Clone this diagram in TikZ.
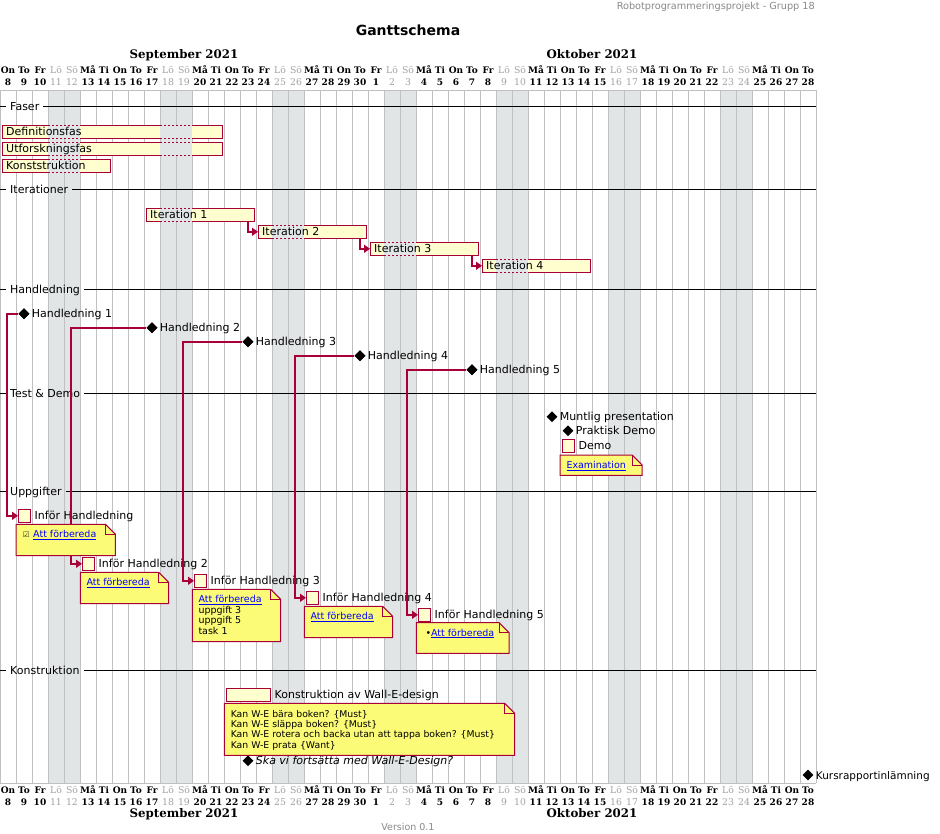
\documentclass[tikz,border=0pt]{standalone}
\usepackage{fontspec}
\setmainfont{DejaVu Sans}
\newfontfamily\calfont{DejaVu Serif}
\usetikzlibrary{arrows.meta,shapes.geometric}

\definecolor{barfill}{HTML}{FEFECE}
\definecolor{barline}{HTML}{A80036}
\definecolor{notefill}{HTML}{FBFB77}
\definecolor{wkfill}{HTML}{E1E5E5}
\definecolor{gridline}{HTML}{C0C0C0}
\definecolor{wktext}{HTML}{A0A0A0}
\definecolor{linkblue}{HTML}{0000FF}
\definecolor{hdrgray}{HTML}{888888}

\newcommand\dayname[1]{\ifcase#1 On\or To\or Fr\or Lö\or Sö\or Må\or Ti\fi}
\newcommand\lnk[1]{\textcolor{linkblue}{\underline{#1}}}
% note with folded corner, drawn round an empty node
\newcommand\notefold[1]{%
  \draw[noteline] (#1.south west) -- (#1.north west) -- ([xshift=-10pt]#1.north east)
    -- ([yshift=-10pt]#1.north east) -- (#1.south east) -- cycle;
  \draw[barline, line width=1pt] ([xshift=-10pt]#1.north east) |- ([yshift=-10pt]#1.north east);}
% closed days inside a bar
\newcommand\wkgap[3]{%
  \fill[wkfill] (#1,#3-7) rectangle (#2,#3+7);
  \draw[barline, line width=1pt, dash pattern=on 2pt off 2pt] (#1,#3-6.5) -- (#2,#3-6.5) (#1,#3+6.5) -- (#2,#3+6.5);}

\tikzset{
  bar/.style={draw=barline, fill=barfill, line width=1pt, minimum height=13pt, inner sep=0pt, anchor=west},
  lbl/.style={anchor=west, inner sep=0pt, text height=8pt, text depth=0pt, font=\fontsize{11}{13}\selectfont},
  mile/.style={diamond, fill=black, minimum width=11pt, minimum height=11pt, inner sep=0pt},
  seplabel/.style={anchor=west, inner xsep=4pt, inner ysep=0pt, text height=8pt, text depth=0pt, font=\fontsize{11}{13}\selectfont},
  sepline/.style={black, line width=1pt},
  dep/.style={draw=barline, line width=1.5pt, -{Triangle[length=6pt,width=8pt]}},
  notebox/.style={anchor=north west, inner sep=0pt},
  noteline/.style={draw=barline, fill=notefill, line width=1pt},
  notetext/.style={anchor=north west, inner sep=0pt, align=left, font=\fontsize{9.5}{10.5}\selectfont},
  wkday/.style={anchor=base, inner sep=0pt, font=\calfont\bfseries\fontsize{9}{10}\selectfont},
  wkend/.style={anchor=base, inner sep=0pt, text=wktext, font=\calfont\fontsize{9.3}{10}\selectfont},
  month/.style={anchor=base, inner sep=0pt, font=\calfont\bfseries\fontsize{11.8}{13}\selectfont},
}

\begin{document}
\begin{tikzpicture}[x=1pt,y=-1pt]
\useasboundingbox (0,0) rectangle (940,834);

% titles
\node[anchor=base, inner sep=0pt, font=\bfseries\fontsize{14}{16}\selectfont] (title) at (408,36) {Ganttschema};
\node[anchor=base east, inner sep=0pt, text=hdrgray, font=\fontsize{9.7}{11}\selectfont] (hdr) at (815,9.5) {Robotprogrammeringsprojekt - Grupp 18};
\node[anchor=base, inner sep=0pt, text=hdrgray, font=\fontsize{9.5}{11}\selectfont] (ver) at (408,830.5) {Version 0.1};
\node[month] (sept) at (184,59) {September 2021};
\node[month] (okt) at (592,59) {Oktober 2021};
\node[month] (septb) at (184,817.5) {September 2021};
\node[month] (oktb) at (592,817.5) {Oktober 2021};

% calendar
\foreach \k in {0,...,6}
  \fill[wkfill] (48+112*\k,90) rectangle (80+112*\k,783);
\foreach \i in {0,...,51}
  \draw[gridline] (16*\i,90) -- (16*\i,783);
\draw[gridline] (0,90) -- (816,90) (0,783) -- (816,783);
\foreach \i in {0,...,50}{
  \pgfmathtruncatemacro\dnum{\i<23 ? \i+8 : \i-22}
  \pgfmathtruncatemacro\wkd{mod(\i,7)}
  \ifnum\wkd=3 \def\dstyle{wkend}\else\ifnum\wkd=4 \def\dstyle{wkend}\else\def\dstyle{wkday}\fi\fi
  \node[\dstyle] (tn\i) at (16*\i+8,74) {\dayname{\wkd}};
  \node[\dstyle] (td\i) at (16*\i+8,86) {\dnum};
  \node[\dstyle] (bn\i) at (16*\i+8,793.3) {\dayname{\wkd}};
  \node[\dstyle] (bd\i) at (16*\i+8,805) {\dnum};
}

% separators
\node[seplabel] (sfaser) at (6,107) {Faser};
\node[seplabel] (siter) at (6,190) {Iterationer};
\node[seplabel] (shandl) at (6,290) {Handledning};
\node[seplabel] (stest) at (6,393.3) {Test \& Demo};
\node[seplabel] (supp) at (6,491.7) {Uppgifter};
\node[seplabel] (skonst) at (6,670) {Konstruktion};
\draw[sepline] (0,107) -- (sfaser.west) (sfaser.east) -- (816,107);
\draw[sepline] (0,190) -- (siter.west) (siter.east) -- (816,190);
\draw[sepline] (0,290) -- (shandl.west) (shandl.east) -- (816,290);
\draw[sepline] (0,393.3) -- (stest.west) (stest.east) -- (816,393.3);
\draw[sepline] (0,491.7) -- (supp.west) (supp.east) -- (816,491.7);
\draw[sepline] (0,670) -- (skonst.west) (skonst.east) -- (816,670);

% bars
\node[bar, minimum width=220pt] (defs) at (2,131.8) {};
\node[bar, minimum width=220pt] (utf) at (2,148.8) {};
\node[bar, minimum width=108pt] (konst) at (2,165.8) {};
\node[bar, minimum width=108pt] (it1) at (146,214.8) {};
\node[bar, minimum width=108pt] (it2) at (258,231.8) {};
\node[bar, minimum width=108pt] (it3) at (370,248.8) {};
\node[bar, minimum width=108pt] (it4) at (482,265.8) {};
\node[bar, minimum width=12pt] (demo) at (562,445.8) {};
\node[bar, minimum width=12pt] (ihl1) at (18,515.8) {};
\node[bar, minimum width=12pt] (ihl2) at (82,563.8) {};
\node[bar, minimum width=12pt] (ihl3) at (194,580.8) {};
\node[bar, minimum width=12pt] (ihl4) at (306,597.8) {};
\node[bar, minimum width=12pt] (ihl5) at (418,614.8) {};
\node[bar, minimum width=44pt] (walle) at (226,694.7) {};
\wkgap{48}{80}{131.8} \wkgap{160}{192}{131.8}
\wkgap{48}{80}{148.8} \wkgap{160}{192}{148.8}
\wkgap{48}{80}{165.8}
\wkgap{160}{192}{214.8}
\wkgap{272}{304}{231.8}
\wkgap{384}{416}{248.8}
\wkgap{496}{528}{265.8}
\node[lbl] at ([xshift=4pt]defs.west) {Definitionsfas};
\node[lbl] at ([xshift=4pt]utf.west) {Utforskningsfas};
\node[lbl] at ([xshift=4pt]konst.west) {Konststruktion};
\node[lbl] at ([xshift=4pt]it1.west) {Iteration 1};
\node[lbl] at ([xshift=4pt]it2.west) {Iteration 2};
\node[lbl] at ([xshift=4pt]it3.west) {Iteration 3};
\node[lbl] at ([xshift=4pt]it4.west) {Iteration 4};
\node[lbl] at ([xshift=3.5pt]demo.east) {Demo};
\node[lbl] at ([xshift=3.5pt]ihl1.east) {Inför Handledning};
\node[lbl] at ([xshift=3.5pt]ihl2.east) {Inför Handledning 2};
\node[lbl] at ([xshift=3.5pt]ihl3.east) {Inför Handledning 3};
\node[lbl] at ([xshift=3.5pt]ihl4.east) {Inför Handledning 4};
\node[lbl] at ([xshift=3.5pt]ihl5.east) {Inför Handledning 5};
\node[lbl] at ([xshift=3.5pt]walle.east) {Konstruktion av Wall-E-design};

% milestones
\node[mile] (hl1) at (24,313.8) {};
\node[mile] (hl2) at (152,327.8) {};
\node[mile] (hl3) at (248,341.8) {};
\node[mile] (hl4) at (360,355.8) {};
\node[mile] (hl5) at (472,369.8) {};
\node[mile] (munt) at (552,416.7) {};
\node[mile] (prak) at (568,430.7) {};
\node[mile] (ska) at (248,760.7) {};
\node[mile] (kurs) at (808,775) {};
\node[lbl] at ([xshift=2pt]hl1.east) {Handledning 1};
\node[lbl] at ([xshift=2pt]hl2.east) {Handledning 2};
\node[lbl] at ([xshift=2pt]hl3.east) {Handledning 3};
\node[lbl] at ([xshift=2pt]hl4.east) {Handledning 4};
\node[lbl] at ([xshift=2pt]hl5.east) {Handledning 5};
\node[lbl] at ([xshift=2pt]munt.east) {Muntlig presentation};
\node[lbl] at ([xshift=2pt]prak.east) {Praktisk Demo};
\node[lbl] at ([xshift=2pt]ska.east) {\itshape Ska vi fortsätta med Wall-E-Design?};
\node[lbl, font=\fontsize{10.5}{13}\selectfont] at ([xshift=2pt]kurs.east) {Kursrapportinlämning};

% dependencies
\draw[dep] ([xshift=-7pt]it1.south east) |- (it2.west);
\draw[dep] ([xshift=-7pt]it2.south east) |- (it3.west);
\draw[dep] ([xshift=-7pt]it3.south east) |- (it4.west);
\draw[dep] (hl1.west) -| ([xshift=-11pt]ihl1.west) -- (ihl1.west);
\draw[dep] (hl2.west) -| ([xshift=-11pt]ihl2.west) -- (ihl2.west);
\draw[dep] (hl3.west) -| ([xshift=-11pt]ihl3.west) -- (ihl3.west);
\draw[dep] (hl4.west) -| ([xshift=-11pt]ihl4.west) -- (ihl4.west);
\draw[dep] (hl5.west) -| ([xshift=-11pt]ihl5.west) -- (ihl5.west);
\node[mile] at (hl1) {};
\node[mile] at (hl2) {};
\node[mile] at (hl3) {};
\node[mile] at (hl4) {};
\node[mile] at (hl5) {};

% notes
\node[notebox, minimum width=81.7pt, minimum height=20pt] (nexam) at (560,455) {};
\node[notebox, minimum width=99pt, minimum height=31pt] (n1) at (16,524.3) {};
\node[notebox, minimum width=88pt, minimum height=31pt] (n2) at (80.3,572.3) {};
\node[notebox, minimum width=88pt, minimum height=52pt] (n3) at (192.3,589.3) {};
\node[notebox, minimum width=88pt, minimum height=31pt] (n4) at (304.3,606.3) {};
\node[notebox, minimum width=92.4pt, minimum height=30.3pt] (n5) at (416.3,622.7) {};
\node[notebox, minimum width=290pt, minimum height=51.7pt] (nwalle) at (224.3,703.3) {};
\notefold{nexam}
\notefold{n1}
\notefold{n2}
\notefold{n3}
\notefold{n4}
\notefold{n5}
\notefold{nwalle}
\node[notetext] at ([shift={(6.3pt,-6pt)}]nexam.north west) {\lnk{Examination}};
\node[inner sep=0pt, text=black!85, font=\fontsize{7.5}{8}\selectfont] at ([shift={(10.3pt,-10.5pt)}]n1.north west) {☑};
\node[notetext] at ([shift={(17pt,-6pt)}]n1.north west) {\lnk{Att förbereda}};
\node[notetext] at ([shift={(6pt,-6pt)}]n2.north west) {\lnk{Att förbereda}};
\node[notetext] at ([shift={(6pt,-6pt)}]n3.north west) {\lnk{Att förbereda}\\uppgift 3\\uppgift 5\\task 1};
\node[notetext] at ([shift={(6pt,-6pt)}]n4.north west) {\lnk{Att förbereda}};
\node[notetext] at ([shift={(9pt,-6pt)}]n5.north west) {•\lnk{Att förbereda}};
\node[notetext, font=\fontsize{9.3}{10.45}\selectfont] at ([shift={(6.3pt,-6.5pt)}]nwalle.north west)
  {Kan W-E bära boken? \{Must\}\\Kan W-E släppa boken? \{Must\}\\Kan W-E rotera och backa utan att tappa boken? \{Must\}\\Kan W-E prata \{Want\}};
\end{tikzpicture}
\end{document}
